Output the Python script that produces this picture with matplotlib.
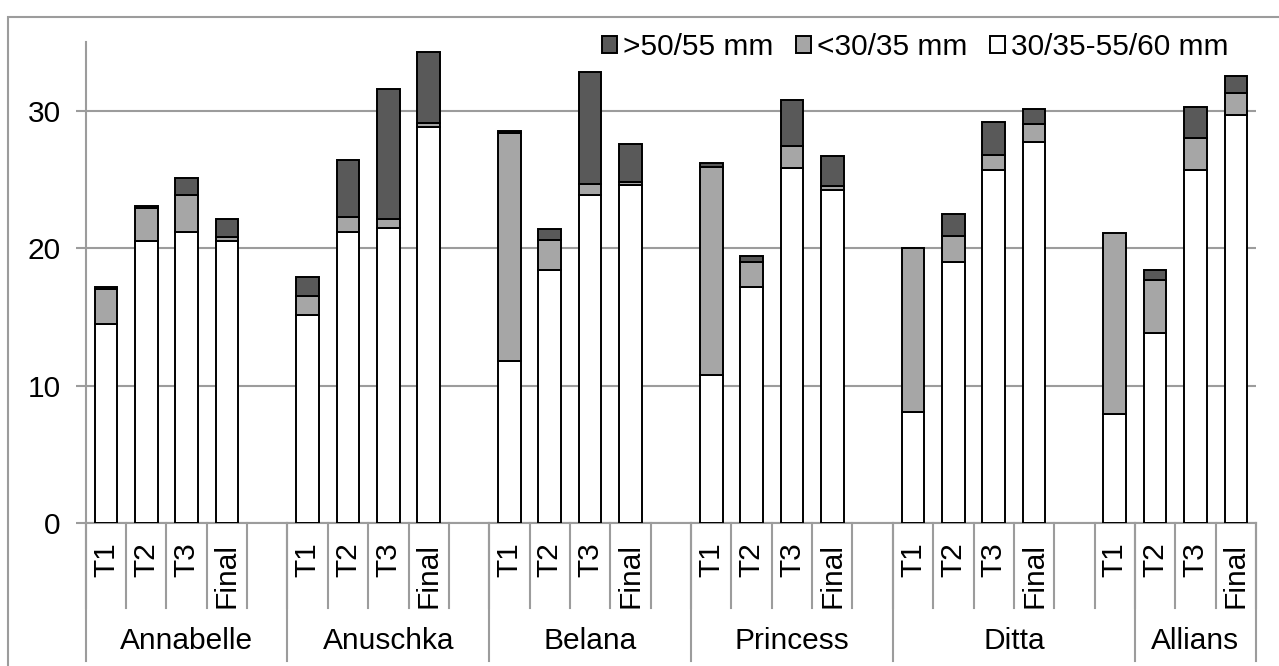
import matplotlib
matplotlib.use('Agg')
import matplotlib.pyplot as plt
from matplotlib.patches import Rectangle, Patch

plt.rcParams['font.family'] = ['Liberation Sans', 'DejaVu Sans']

# sorter og tidspunkt
sorter = ['Annabelle', 'Anuschka', 'Belana', 'Princess', 'Ditta', 'Allians']
tider = ['T1', 'T2', 'T3', 'Final']

# andel (%) per storrelse, en liste per sort (T1, T2, T3, Final)
mellom = [  # 30/35-55/60 mm
    [14.5, 20.5, 21.2, 20.5],
    [15.1, 21.2, 21.5, 28.8],
    [11.8, 18.4, 23.9, 24.6],
    [10.8, 17.2, 25.8, 24.2],
    [8.1, 19.0, 25.7, 27.7],
    [7.9, 13.8, 25.7, 29.7],
]
sma = [  # <30/35 mm
    [2.5, 2.4, 2.7, 0.3],
    [1.4, 1.1, 0.6, 0.3],
    [16.6, 2.2, 0.8, 0.2],
    [15.1, 1.8, 1.6, 0.3],
    [11.9, 1.9, 1.1, 1.35],
    [13.2, 3.9, 2.3, 1.6],
]
store = [  # >50/55 mm
    [0.2, 0.15, 1.2, 1.3],
    [1.4, 4.1, 9.5, 5.2],
    [0.15, 0.8, 8.1, 2.8],
    [0.3, 0.4, 3.4, 2.2],
    [0.0, 1.6, 2.4, 1.1],
    [0.0, 0.7, 2.3, 1.25],
]

# hvor mange plasser hver sortsetikett dekker (som i Excel-diagrammet)
etikett_bredde = [5, 5, 5, 5, 6, 3]

W, H = 1279, 666
fig = plt.figure(figsize=(W / 100, H / 100), dpi=100)
ax = fig.add_axes([85.7 / W, 1 - 523 / H, (1256 - 85.7) / W, (523 - 42) / H])

grid_col = '#9c9c9c'
fs = 21.5
lw_bar = 1.4
n_slots = sum(etikett_bredde)

for g, sort in enumerate(sorter):
    for j, t in enumerate(tider):
        x = 5 * g + j + 0.5
        a = mellom[g][j]
        b = sma[g][j]
        c = store[g][j]
        ax.bar(x, a, width=0.56, color='white', edgecolor='black', linewidth=lw_bar, zorder=3)
        ax.bar(x, b, bottom=a, width=0.56, color='#a6a6a6', edgecolor='black', linewidth=lw_bar, zorder=3)
        if c > 0:
            ax.bar(x, c, bottom=a + b, width=0.56, color='#595959', edgecolor='black', linewidth=lw_bar, zorder=3)
        ax.text(x, -0.041, t, rotation=90, ha='center', va='top', fontsize=fs,
                transform=ax.get_xaxis_transform())

ax.set_xlim(0, n_slots)
ax.set_ylim(0, 35)
ax.set_yticks([0, 10, 20, 30])
ax.set_xticks([])
ax.yaxis.grid(True, color=grid_col, linewidth=1.5, zorder=0)
ax.set_axisbelow(True)
for s in ['top', 'right']:
    ax.spines[s].set_visible(False)
ax.spines['left'].set_color(grid_col)
ax.spines['bottom'].set_color(grid_col)
ax.spines['left'].set_linewidth(1.5)
ax.spines['bottom'].set_linewidth(1.5)
ax.tick_params(axis='y', length=7, width=1.5, color=grid_col, pad=11, labelsize=fs)

# kategori-akse i to nivaer
xt = ax.get_xaxis_transform()
y_rad1 = (523 - 608) / (523 - 42)
y_rad2 = (523 - 661) / (523 - 42)
for i in range(n_slots + 1):
    ax.plot([i, i], [0, y_rad1], color=grid_col, linewidth=1.5, transform=xt, clip_on=False)
start = 0
grenser = [0]
for g, sort in enumerate(sorter):
    slutt = start + etikett_bredde[g]
    ax.text((start + slutt) / 2, (523 - 641) / (523 - 42), sort, ha='center', va='center',
            fontsize=fs, transform=xt)
    grenser.append(slutt)
    start = slutt
for gx in grenser:
    ax.plot([gx, gx], [0, y_rad2], color=grid_col, linewidth=1.5, transform=xt, clip_on=False)

handles = [Patch(facecolor='#595959', edgecolor='black', linewidth=lw_bar),
           Patch(facecolor='#a6a6a6', edgecolor='black', linewidth=lw_bar),
           Patch(facecolor='white', edgecolor='black', linewidth=lw_bar)]
fig.legend(handles, ['>50/55 mm', '<30/35 mm', '30/35-55/60 mm'], loc='center right',
           bbox_to_anchor=(1228 / W, 1 - 47 / H), ncol=3, frameon=False, fontsize=fs,
           handlelength=0.5, handleheight=0.5, handletextpad=0.2, columnspacing=0.75,
           borderpad=0, borderaxespad=0)

# ramme rundt diagrammet
fig.add_artist(Rectangle((8 / W, -0.1), 1.2, 1.1 - 17 / H, transform=fig.transFigure,
                         fill=False, edgecolor=grid_col, linewidth=1.5))

fig.savefig('out.png', dpi=100)
